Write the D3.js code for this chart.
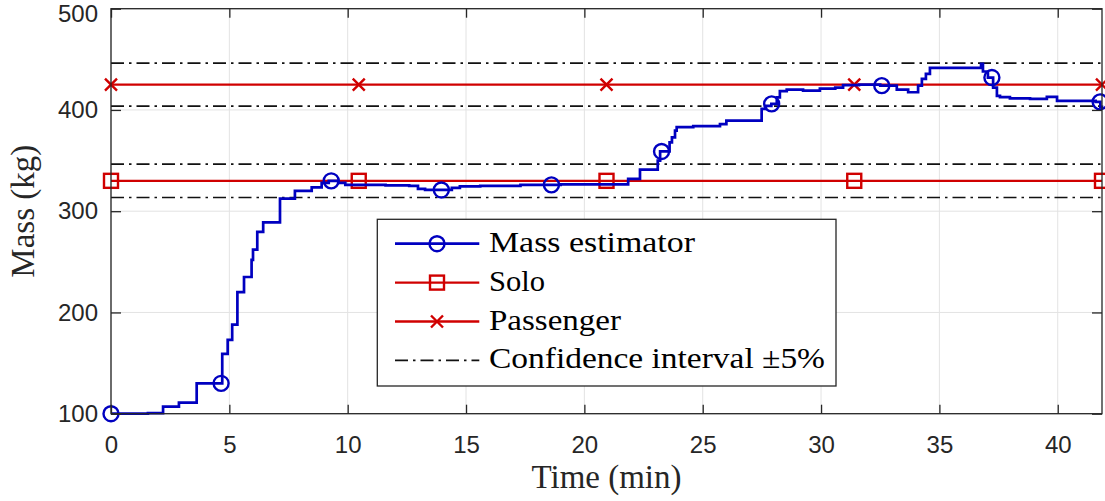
<!DOCTYPE html>
<html>
<head>
<meta charset="utf-8">
<script src="https://cdn.jsdelivr.net/npm/d3@7"></script>
<style>
  html, body { margin: 0; padding: 0; background: #fff; }
  svg { display: block; }
</style>
</head>
<body>
<svg id="chart" width="1105" height="501"></svg>
<script>
// ---------- data ----------
const massTime = [0, 1.56, 2.2, 2.87, 3.62, 4.70, 4.93, 5.12, 5.34, 5.62, 5.94, 6.0, 6.18, 6.43, 7.14, 7.77, 8.48, 8.90, 9.2, 9.6, 9.9, 11.6, 12.6, 12.97, 13.27, 14.1, 14.4, 14.74, 15.6, 17.3, 19.0, 21.85, 22.35, 23.1, 23.2, 23.6, 23.7, 23.83, 23.9, 24.6, 25.73, 26.0, 27.49, 27.67, 27.9, 28.13, 28.26, 28.55, 29.24, 29.95, 30.6, 30.93, 31.6, 32.5, 33.2, 33.68, 34.1, 34.26, 34.43, 34.6, 36.76, 36.84, 37.05, 37.27, 37.43, 37.56, 37.98, 38.83, 39.54, 39.97, 41.6, 41.8, 41.87];
const massValue = [100, 100.5, 107, 111, 130, 159, 173, 188, 220, 235, 252, 262, 279.5, 289, 312.5, 320, 323.5, 328, 330, 328, 326, 325.5, 325, 322, 321, 321, 323, 324.5, 325, 326, 326.5, 332, 341, 350, 359, 368, 373, 379.5, 383, 384, 386, 389.5, 401, 404, 406, 412.5, 418.5, 420, 419, 421, 422, 424.5, 425, 424, 420, 417.5, 424, 430.7, 435.6, 441.6, 445.5, 438, 432, 422, 414, 412.6, 411.5, 410.9, 413, 409, 408, 403, 401];
const massMarkerTimes = [0, 4.652, 9.304, 13.957, 18.609, 23.261, 27.913, 32.566, 37.218, 41.79];

const soloMass = 330;
const passengerMass = 425;
const refMarkerTimes = [0, 10.4675, 20.935, 31.4025, 41.87];
const confidence = 0.05;

const xTicks = [0, 5, 10, 15, 20, 25, 30, 35, 40];
const yTicks = [100, 200, 300, 400, 500];
const xDomain = [0, 41.87];
const yDomain = [100, 500];

const legendLabels = ["Mass estimator", "Solo", "Passenger", "Confidence interval \u00B15%"];

// ---------- setup ----------
const BLUE = "#0000c0", RED = "#d00000", AX = "#262626";
const svg = d3.select("#chart");
const L = 111, R = 1102, T = 8.7, B = 413.7;
const x = d3.scaleLinear().domain(xDomain).range([L, R]);
const y = d3.scaleLinear().domain(yDomain).range([B, T]);

// grid
const grid = svg.append("g");
grid.selectAll("line.gx").data(xTicks).join("line")
  .attr("x1", d => x(d)).attr("x2", d => x(d)).attr("y1", T).attr("y2", B)
  .attr("stroke", "#e3e3e3").attr("stroke-width", 1);
grid.selectAll("line.gy").data(yTicks).join("line")
  .attr("y1", d => y(d)).attr("y2", d => y(d)).attr("x1", L).attr("x2", R)
  .attr("stroke", "#e3e3e3").attr("stroke-width", 1);

// confidence interval lines
const ciLevels = [];
[soloMass, passengerMass].forEach(m => { ciLevels.push(m * (1 - confidence)); ciLevels.push(m * (1 + confidence)); });
svg.append("g").selectAll("line").data(ciLevels).join("line")
  .attr("x1", x(xDomain[0])).attr("x2", x(xDomain[1]))
  .attr("y1", d => y(d)).attr("y2", d => y(d))
  .attr("stroke", "#111").attr("stroke-width", 1.6)
  .attr("stroke-dasharray", "13,5,2.5,5");

// marker helpers
function squareMarker(g, cx, cy) {
  g.append("rect").attr("x", cx - 7).attr("y", cy - 7).attr("width", 14).attr("height", 14)
    .attr("fill", "none").attr("stroke", RED).attr("stroke-width", 2.4);
}
function xMarker(g, cx, cy) {
  const s = 6;
  g.append("path").attr("d", `M${cx - s},${cy - s}L${cx + s},${cy + s}M${cx - s},${cy + s}L${cx + s},${cy - s}`)
    .attr("stroke", RED).attr("stroke-width", 2.4).attr("fill", "none");
}
function circleMarker(g, cx, cy) {
  g.append("circle").attr("cx", cx).attr("cy", cy).attr("r", 7.5)
    .attr("fill", "none").attr("stroke", BLUE).attr("stroke-width", 2.4);
}

// reference lines
function refLine(val, marker) {
  const g = svg.append("g");
  g.append("line").attr("x1", x(xDomain[0])).attr("x2", x(xDomain[1]))
    .attr("y1", y(val)).attr("y2", y(val)).attr("stroke", RED).attr("stroke-width", 2.4);
  refMarkerTimes.forEach(t => marker(g, x(t), y(val)));
}
refLine(soloMass, squareMarker);
refLine(passengerMass, xMarker);

// mass estimator
const massData = massTime.map((t, i) => ({ t, v: massValue[i] }));
const line = d3.line().x(d => x(d.t)).y(d => y(d.v)).curve(d3.curveStepAfter);
const mg = svg.append("g");
mg.append("path").datum(massData).attr("d", line)
  .attr("fill", "none").attr("stroke", BLUE).attr("stroke-width", 2.7).attr("stroke-linejoin", "miter");
const bis = d3.bisector(d => d.t).right;
massMarkerTimes.forEach(t => {
  const i = Math.max(0, bis(massData, t + 1e-9) - 1);
  circleMarker(mg, x(t), y(massData[i].v));
});

// axes box & ticks
const axG = svg.append("g");
axG.append("rect").attr("x", L).attr("y", T).attr("width", R - L).attr("height", B - T)
  .attr("fill", "none").attr("stroke", AX).attr("stroke-width", 1.3);

const xAxis = svg.append("g").attr("transform", `translate(0,${B})`)
  .call(d3.axisBottom(x).tickValues(xTicks).tickSize(-9).tickPadding(22).tickFormat(d3.format("d")));
const xAxisTop = svg.append("g").attr("transform", `translate(0,${T})`)
  .call(d3.axisTop(x).tickValues(xTicks).tickSize(-9).tickFormat(""));
const yAxis = svg.append("g").attr("transform", `translate(${L},0)`)
  .call(d3.axisLeft(y).tickValues(yTicks).tickSize(-10).tickPadding(13).tickFormat(d3.format("d")));
const yAxisR = svg.append("g").attr("transform", `translate(${R},0)`)
  .call(d3.axisRight(y).tickValues(yTicks).tickSize(-10).tickFormat(""));
[xAxis, xAxisTop, yAxis, yAxisR].forEach(a => {
  a.select(".domain").remove();
  a.selectAll(".tick line").attr("stroke", AX).attr("stroke-width", 1.3);
  a.selectAll("text").attr("fill", AX).style("font-family", "'Liberation Sans', Arial, sans-serif").style("font-size", "24px");
});
// top label nudged down as in the reference
yAxis.selectAll(".tick").filter(d => d === 500).select("text").attr("dy", "0.32em").attr("y", 5);

// axis titles
svg.append("text").attr("x", (L + R) / 2).attr("y", 488).attr("text-anchor", "middle")
  .style("font-family", "'Liberation Serif', 'Times New Roman', serif").style("font-size", "33px")
  .attr("fill", AX).text("Time (min)");
svg.append("text").attr("transform", `translate(33.5,${(T + B) / 2}) rotate(-90)`).attr("text-anchor", "middle")
  .style("font-family", "'Liberation Serif', 'Times New Roman', serif").style("font-size", "33px")
  .attr("fill", AX).text("Mass (kg)");

// legend
const lg = svg.append("g");
lg.append("rect").attr("x", 377.3).attr("y", 219.3).attr("width", 836 - 377.3).attr("height", 386 - 219.3)
  .attr("fill", "#fff").attr("stroke", AX).attr("stroke-width", 1.3);
const legendWidths = [206, 56, 132, 336];
const rowBase = [251.7, 290.6, 329.5, 368.4];
legendLabels.forEach((lab, i) => {
  const ly = rowBase[i] - 8;
  const ln = lg.append("line").attr("x1", 395).attr("x2", 479.3).attr("y1", ly).attr("y2", ly);
  if (i === 0) { ln.attr("stroke", BLUE).attr("stroke-width", 2.7); circleMarker(lg, 437, ly); }
  else if (i === 1) { ln.attr("stroke", RED).attr("stroke-width", 2.4); squareMarker(lg, 437, ly); }
  else if (i === 2) { ln.attr("stroke", RED).attr("stroke-width", 2.4); xMarker(lg, 437, ly); }
  else { ln.attr("stroke", "#111").attr("stroke-width", 1.6).attr("stroke-dasharray", "13,5,2.5,5"); }
  lg.append("text").attr("x", 489).attr("y", rowBase[i])
    .style("font-family", "'Liberation Serif', 'Times New Roman', serif").style("font-size", "30px")
    .attr("fill", "#000").attr("textLength", legendWidths[i]).attr("lengthAdjust", "spacingAndGlyphs")
    .text(lab);
});
</script>
</body>
</html>
